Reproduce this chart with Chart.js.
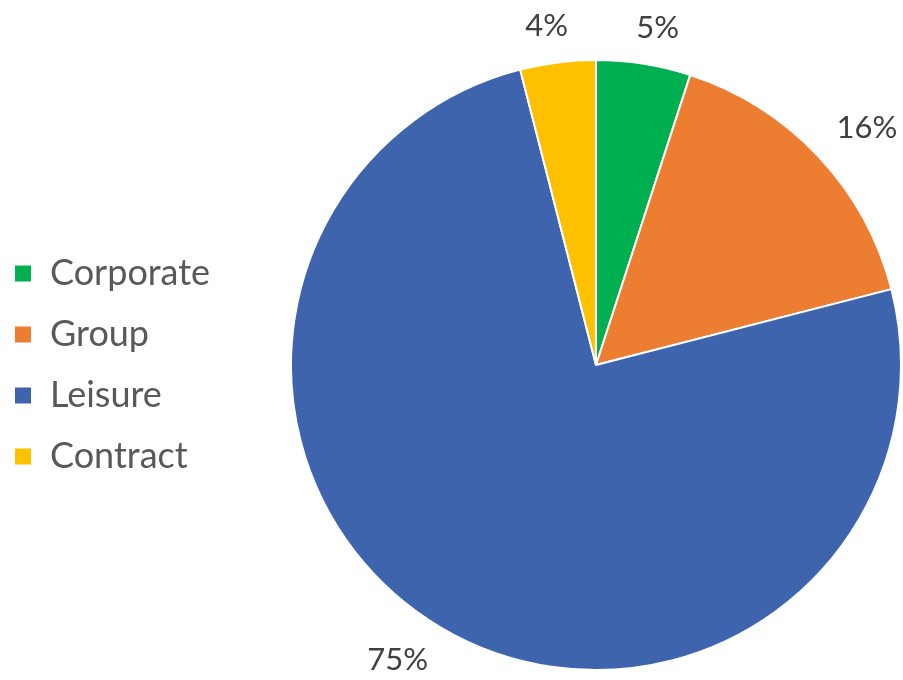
<!DOCTYPE html>
<html>
<head>
<meta charset="utf-8">
<script src="https://cdn.jsdelivr.net/npm/chart.js@4"></script>
<style>
  html, body { margin: 0; padding: 0; background: #ffffff; }
  #wrap { width: 903px; height: 680px; }
</style>
</head>
<body>
<div id="wrap"><canvas id="chart" width="903" height="680"></canvas></div>
<script>
// data
const segments = ['Corporate', 'Group', 'Leisure', 'Contract'];
const shares = [5, 16, 75, 4];
const colors = ['#00B050', '#ED7D31', '#3E64AD', '#FFC000']; // office palette

const clamp = v => Math.max(-1, Math.min(1, v));

// percent labels just outside the rim, box corner touching a point past the edge
const outsideLabels = {
    id: 'outsideLabels',
    afterDatasetsDraw(chart) {
        const ctx = chart.ctx;
        const meta = chart.getDatasetMeta(0);
        const total = shares.reduce((a, b) => a + b, 0);
        const size = 31;
        ctx.save();
        ctx.font = size + 'px Lato';
        ctx.fillStyle = '#404040';
        ctx.textAlign = 'center';
        ctx.textBaseline = 'middle';
        meta.data.forEach((arc, i) => {
            const p = arc.getProps(['x', 'y', 'startAngle', 'endAngle', 'outerRadius'], true);
            const mid = (p.startAngle + p.endAngle) / 2;
            const c = Math.cos(mid), s = Math.sin(mid);
            const txt = Math.round(shares[i] / total * 100) + '%';
            const w = ctx.measureText(txt).width;
            const h = size * 0.72;
            const r = p.outerRadius + 25;
            const x = p.x + c * r + clamp(c * 3) * w / 2;
            const y = p.y + s * r + clamp(s * 3) * h / 2;
            ctx.fillText(txt, x, y);
        });
        ctx.restore();
    }
};

// widen the legend column so the pie sits where it does in the picture
const padLeft = -11;
const legendColumn = 289 - padLeft;
const legendWidth = {
    id: 'legendWidth',
    beforeLayout(chart) {
        const lg = chart.legend;
        if (!lg || lg._wide) return;
        const fit = lg.fit.bind(lg);
        lg.fit = function () {
            fit();
            this.width = legendColumn;
        };
        lg._wide = true;
    }
};

new Chart(document.getElementById('chart').getContext('2d'), {
    type: 'pie',
    data: {
        labels: segments,
        datasets: [{
            data: shares,
            backgroundColor: colors,
            borderColor: '#ffffff',
            borderWidth: 2
        }]
    },
    options: {
        responsive: false,
        animation: false,
        radius: 305,
        layout: { padding: { left: padLeft, right: 0, top: 55, bottom: 5 } },
        plugins: {
            tooltip: { enabled: false },
            legend: {
                position: 'left',
                onClick: null,
                labels: {
                    boxWidth: 18,
                    boxHeight: 18,
                    padding: 25,
                    color: '#595959',
                    font: { family: 'Lato', size: 36 }
                }
            }
        }
    },
    plugins: [legendWidth, outsideLabels]
});
</script>
</body>
</html>
